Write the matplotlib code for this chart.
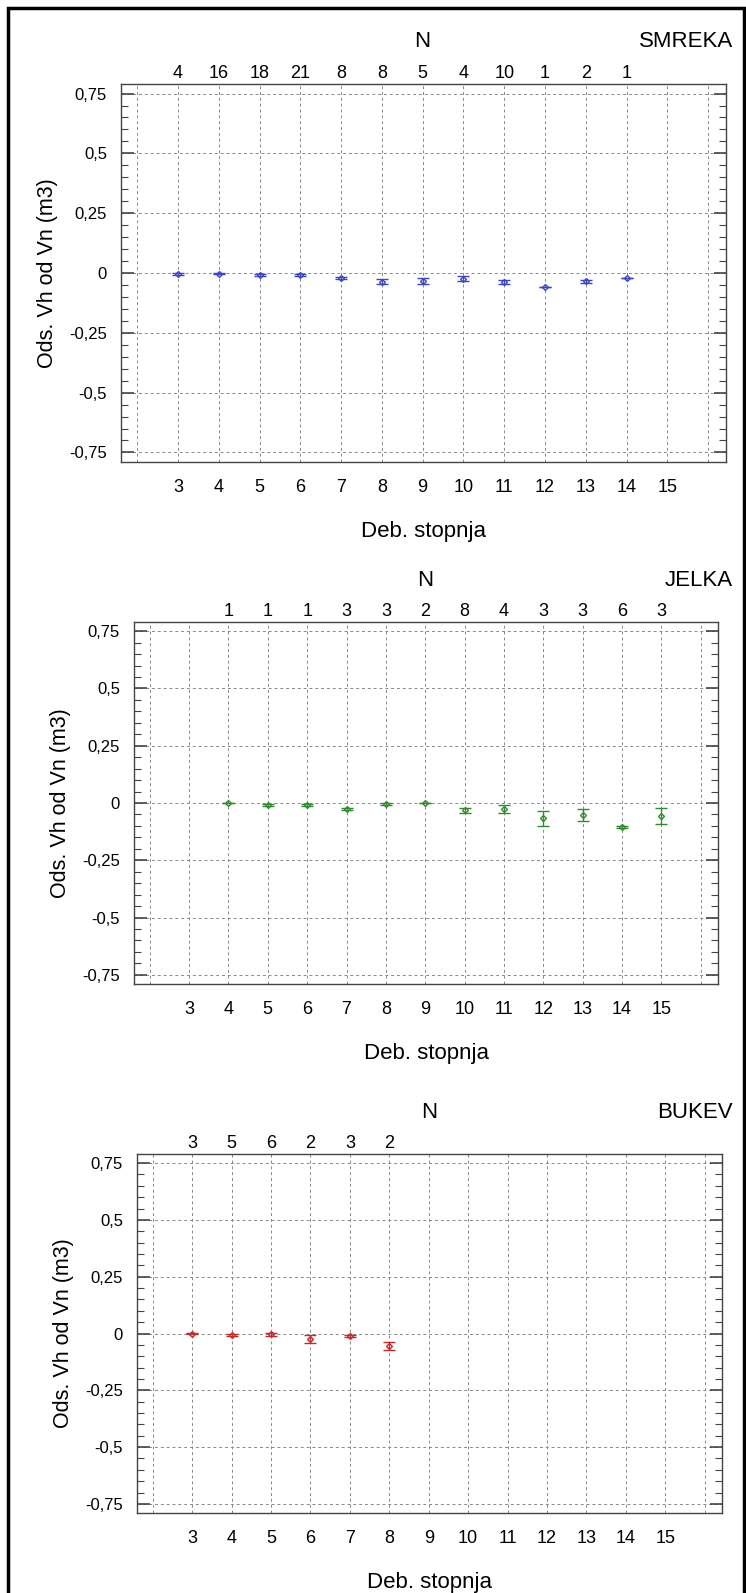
import numpy as np
import matplotlib
matplotlib.use("Agg")
from matplotlib import pyplot as plt
from matplotlib.ticker import MultipleLocator, FuncFormatter
from matplotlib.patches import Rectangle

plt.rcParams['font.family'] = ['Liberation Sans', 'DejaVu Sans']

# data: razlika Vh - Vn po debelinskih stopnjah
smreka_x = [3, 4, 5, 6, 7, 8, 9, 10, 11, 12, 13, 14]
smreka_y = [-0.003, -0.003, -0.007, -0.007, -0.02, -0.036, -0.033, -0.023, -0.037, -0.058, -0.035, -0.02]
smreka_err = [0.004, 0.003, 0.004, 0.004, 0.005, 0.011, 0.012, 0.009, 0.008, 0.0, 0.005, 0.0]
smreka_n = [4, 16, 18, 21, 8, 8, 5, 4, 10, 1, 2, 1]

jelka_x = [4, 5, 6, 7, 8, 9, 10, 11, 12, 13, 14, 15]
jelka_y = [0.0, -0.01, -0.01, -0.025, -0.006, 0.0, -0.032, -0.025, -0.066, -0.053, -0.105, -0.058]
jelka_err = [0.0, 0.004, 0.004, 0.004, 0.004, 0.0, 0.012, 0.017, 0.033, 0.027, 0.005, 0.034]
jelka_n = [1, 1, 1, 3, 3, 2, 8, 4, 3, 3, 6, 3]

bukev_x = [3, 4, 5, 6, 7, 8]
bukev_y = [0.0, -0.006, -0.004, -0.026, -0.01, -0.056]
bukev_err = [0.003, 0.003, 0.006, 0.018, 0.004, 0.018]
bukev_n = [3, 5, 6, 2, 3, 2]

xticks = list(range(3, 16))
yticks = [-0.75, -0.5, -0.25, 0, 0.25, 0.5, 0.75]

W, H = 746, 1593
fig = plt.figure(figsize=(W / 100, H / 100), dpi=100)


def box(l, t, r, b):
    return [l / W, 1 - b / H, (r - l) / W, (b - t) / H]


def yfmt(v, pos):
    if abs(v) < 1e-9:
        return "0"
    return ("%g" % v).replace(".", ",")


panels = [
    (box(121, 84, 726, 462), smreka_x, smreka_y, smreka_err, smreka_n, "#3a46c8", "SMREKA"),
    (box(134, 622, 718, 984), jelka_x, jelka_y, jelka_err, jelka_n, "#2e8b2e", "JELKA"),
    (box(137, 1154, 722, 1513), bukev_x, bukev_y, bukev_err, bukev_n, "#c82828", "BUKEV"),
]

for rect, x, y, err, n, col, name in panels:
    ax = fig.add_axes(rect)
    ax.errorbar(x, y, yerr=err, fmt='D', ms=3, mfc='none', mec=col, color=col,
                ecolor=col, elinewidth=1, capsize=4, capthick=1)
    ax.set_xlim(1.6, 16.44)
    ax.set_ylim(-0.79, 0.79)
    ax.set_xticks(range(2, 17))
    ax.set_xticklabels([""] + [str(v) for v in xticks] + [""])
    ax.set_yticks(yticks)
    ax.yaxis.set_major_formatter(FuncFormatter(yfmt))
    ax.yaxis.set_minor_locator(MultipleLocator(0.05))
    ax.tick_params(axis='x', length=0, labelsize=13, pad=12)
    ax.tick_params(axis='y', which='major', direction='in', length=9, width=1.2,
                   color='#444444', labelsize=12, left=True, right=True, pad=10)
    ax.tick_params(axis='y', which='minor', direction='in', length=5, width=0.8,
                   color='#444444', left=True, right=True)
    ax.grid(True, which='major', color='#888888', linestyle=(0, (3, 3)), linewidth=0.7)
    for s in ax.spines.values():
        s.set_color('#444444')
        s.set_linewidth(1.0)
    ax.set_xlabel("Deb. stopnja", fontsize=16, labelpad=18)
    ax.set_ylabel("Ods. Vh od Vn (m3)", fontsize=15.5, labelpad=8)

    # število dreves nad stopnjami
    for xi, ni in zip(x, n):
        ax.text(xi, 1.005, str(ni), transform=ax.get_xaxis_transform(),
                ha='center', va='bottom', fontsize=13)
    ax.text(9, 1.085, "N", transform=ax.get_xaxis_transform(),
            ha='center', va='bottom', fontsize=16)
    fig.text(733 / W, rect[1] + rect[3] + 0.085 * rect[3], name,
             ha='right', va='bottom', fontsize=16)

# okvir
fig.patches.append(Rectangle((8 / W, -0.02), (744 - 8) / W, 1 - 8 / H + 0.02,
                             transform=fig.transFigure, fill=False,
                             edgecolor='black', linewidth=2.5))

fig.savefig("out.png", dpi=100)
